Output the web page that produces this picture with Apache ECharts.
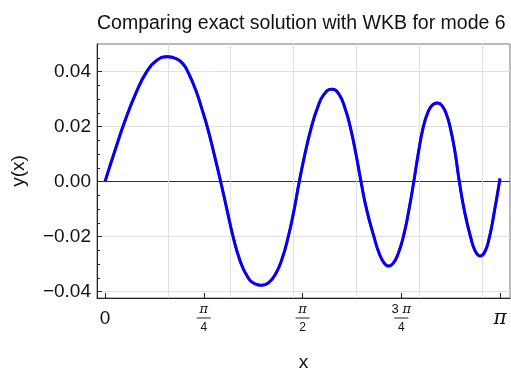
<!DOCTYPE html>
<html>
<head>
<meta charset="utf-8">
<script src="https://cdn.jsdelivr.net/npm/echarts@6/dist/echarts.min.js"></script>
<style>
  html, body { margin: 0; padding: 0; background: #fff; }
  #chart { width: 511px; height: 371px; }
</style>
</head>
<body>
<div id="chart"></div>
<script>
// Sample positions along [0, pi]
const xValues = [
  0, 0.08, 0.16, 0.25, 0.33, 0.41, 0.497, 0.57, 0.62, 0.66, 0.72, 0.77, 0.814, 0.867, 0.92,
  0.97, 1.016, 1.07, 1.13, 1.19, 1.246, 1.30, 1.36, 1.41, 1.455, 1.50, 1.545,
  1.59, 1.644, 1.69, 1.74, 1.803, 1.86, 1.91, 1.95, 1.995, 2.036,
  2.08, 2.139, 2.18, 2.22, 2.253, 2.29, 2.33, 2.373, 2.415, 2.456,
  2.49, 2.532, 2.57, 2.605, 2.643, 2.68, 2.715, 2.744, 2.78, 2.818,
  2.86, 2.908, 2.945, 2.983, 3.02, 3.057, 3.10, 3.1416
];

// Exact eigenfunction, mode 6
const exactY = [
  0, 0.0114, 0.0222, 0.0326, 0.0398, 0.0440, 0.0454, 0.0446, 0.0428, 0.0398, 0.0335, 0.0265, 0.0198, 0.0102, 0,
  -0.0102, -0.0195, -0.0282, -0.0343, -0.0371, -0.0377, -0.0368, -0.0333, -0.0278, -0.0205, -0.0112, 0,
  0.0100, 0.0202, 0.0268, 0.0316, 0.0336, 0.0318, 0.0265, 0.0200, 0.0102, 0,
  -0.0100, -0.0200, -0.0260, -0.0296, -0.0307, -0.0298, -0.0264, -0.0200, -0.0108, 0,
  0.0098, 0.0200, 0.0254, 0.0279, 0.0286, 0.0276, 0.0245, 0.0200, 0.0118, 0,
  -0.0110, -0.0202, -0.0253, -0.0270, -0.0256, -0.0203, -0.0100, 0.0011
];

// WKB approximation, mode 6
const wkbY = [
  0, 0.0114, 0.0222, 0.0326, 0.0398, 0.0440, 0.0454, 0.0446, 0.0428, 0.0398, 0.0335, 0.0265, 0.0198, 0.0102, 0,
  -0.0102, -0.0195, -0.0282, -0.0343, -0.0371, -0.0377, -0.0368, -0.0333, -0.0278, -0.0205, -0.0112, 0,
  0.0100, 0.0202, 0.0268, 0.0316, 0.0336, 0.0318, 0.0265, 0.0200, 0.0102, 0,
  -0.0100, -0.0200, -0.0260, -0.0296, -0.0307, -0.0298, -0.0264, -0.0200, -0.0108, 0,
  0.0098, 0.0200, 0.0254, 0.0279, 0.0286, 0.0276, 0.0245, 0.0200, 0.0118, 0,
  -0.0110, -0.0202, -0.0253, -0.0270, -0.0256, -0.0203, -0.0100, 0.0011
];

// Axis ticks and labels
const xTicks = [0, Math.PI / 4, Math.PI / 2, 3 * Math.PI / 4, Math.PI];
const xTickWhole = ['0', '', '', '', 'π'];
const xTickNumCoef = ['', '', '', '3 ', ''];
const xTickDen = ['', '4', '2', '4', ''];
const yTicks = [-0.04, -0.02, 0, 0.02, 0.04];
const yMinorTicks = [-0.035, -0.03, -0.025, -0.015, -0.01, -0.005, 0.005, 0.01, 0.015,
                     0.025, 0.03, 0.035, 0.045];
const xGrid = [0.5, 1, 1.5, 2, 2.5, 3];
const yGrid = [-0.04, -0.02, 0.02, 0.04];
const yAxisLine = [0];

const xMin = -0.0636, xMax = 3.221;
const yMin = -0.0423, yMax = 0.05;

const FONT = 'Liberation Sans';
const chart = echarts.init(document.getElementById('chart'), null, { renderer: 'canvas' });

function pairs(xs, ys) { return xs.map((x, i) => [x, ys[i]]); }

function xLabel(v) {
  const i = xTicks.findIndex(t => Math.abs(t - v) < 1e-6);
  if (i < 0) return '';
  if (xTickWhole[i] === '0') return '{whole|0}';
  if (xTickWhole[i] === 'π') return '{pi|π}';
  const num = (xTickNumCoef[i] ? '{num|' + xTickNumCoef[i] + '}' : '') + '{numPi|π}';
  return num + '\n{bar| }\n{den|' + xTickDen[i] + '}';
}

// Hidden helper axis that only draws split lines at the given values
function lineAxis(min, max, values, color) {
  return {
    type: 'value', min: min, max: max, show: true,
    axisLine: { show: false, onZero: false },
    axisTick: { show: false, customValues: values },
    axisLabel: { show: false },
    splitLine: { show: true, lineStyle: { color: color, width: 1 } },
    z: 0
  };
}

chart.setOption({
  animation: false,
  backgroundColor: '#fff',
  title: {
    text: 'Comparing exact solution with WKB for mode 6',
    left: 92, top: 9,
    textStyle: { fontFamily: FONT, fontSize: 19.5, fontWeight: 'normal', color: '#111' }
  },
  grid: {
    left: 97, top: 44, right: 1, bottom: 73,
    outerBoundsMode: 'none',
    show: true, borderColor: '#777', borderWidth: 1, backgroundColor: 'transparent'
  },
  xAxis: [{
    type: 'value', min: xMin, max: xMax,
    name: 'x', nameLocation: 'middle', nameGap: 55,
    nameTextStyle: { fontFamily: FONT, fontSize: 19, color: '#111' },
    axisLine: { onZero: false, lineStyle: { color: '#222', width: 1 } },
    axisTick: { inside: true, length: 5, customValues: xTicks, lineStyle: { color: '#222' } },
    axisLabel: {
      customValues: xTicks, margin: 5, formatter: xLabel, color: '#111',
      rich: {
        whole: { fontFamily: FONT, fontSize: 19, lineHeight: 32, color: '#111' },
        pi: { fontFamily: 'DejaVu Serif', fontStyle: 'italic', fontSize: 20, lineHeight: 32, color: '#111' },
        num: { fontFamily: FONT, fontSize: 13, lineHeight: 13, color: '#111' },
        numPi: { fontFamily: 'DejaVu Serif', fontStyle: 'italic', fontSize: 13, lineHeight: 13, color: '#111' },
        bar: { fontSize: 1, width: 14, height: 1, lineHeight: 4, backgroundColor: '#222' },
        den: { fontFamily: FONT, fontSize: 12, lineHeight: 15, color: '#111' }
      }
    },
    splitLine: { show: false },
    z: 5
  }, lineAxis(xMin, xMax, xGrid, '#e0e0e0')],
  yAxis: [{
    type: 'value', min: yMin, max: yMax,
    name: 'y(x)', nameLocation: 'middle', nameGap: 69, nameRotate: 90,
    nameTextStyle: { fontFamily: FONT, fontSize: 19, color: '#111' },
    axisLine: { show: true, onZero: false, lineStyle: { color: '#222', width: 1 } },
    axisTick: { inside: true, length: 5, customValues: yTicks, lineStyle: { color: '#222' } },
    axisLabel: {
      customValues: yTicks, margin: 6, color: '#111',
      fontFamily: FONT, fontSize: 19,
      formatter: v => v.toFixed(2).replace('-', '\u2212')
    },
    splitLine: { show: false },
    z: 5
  }, {
    type: 'value', min: yMin, max: yMax, position: 'left',
    axisLine: { show: false, onZero: false },
    axisTick: { show: true, inside: true, length: 3, customValues: yMinorTicks, lineStyle: { color: '#222' } },
    axisLabel: { show: false },
    splitLine: { show: false },
    z: 5
  }, lineAxis(yMin, yMax, yGrid, '#e0e0e0'),
     lineAxis(yMin, yMax, yAxisLine, '#333')],
  series: [{
    name: 'exact', type: 'line', data: pairs(xValues, exactY),
    smooth: true, showSymbol: false, z: 3,
    lineStyle: { color: '#ff0000', width: 2.6 }
  }, {
    name: 'WKB', type: 'line', data: pairs(xValues, wkbY),
    smooth: true, showSymbol: false, z: 4,
    lineStyle: { color: '#0000ff', width: 3 }
  }]
});
</script>
</body>
</html>
